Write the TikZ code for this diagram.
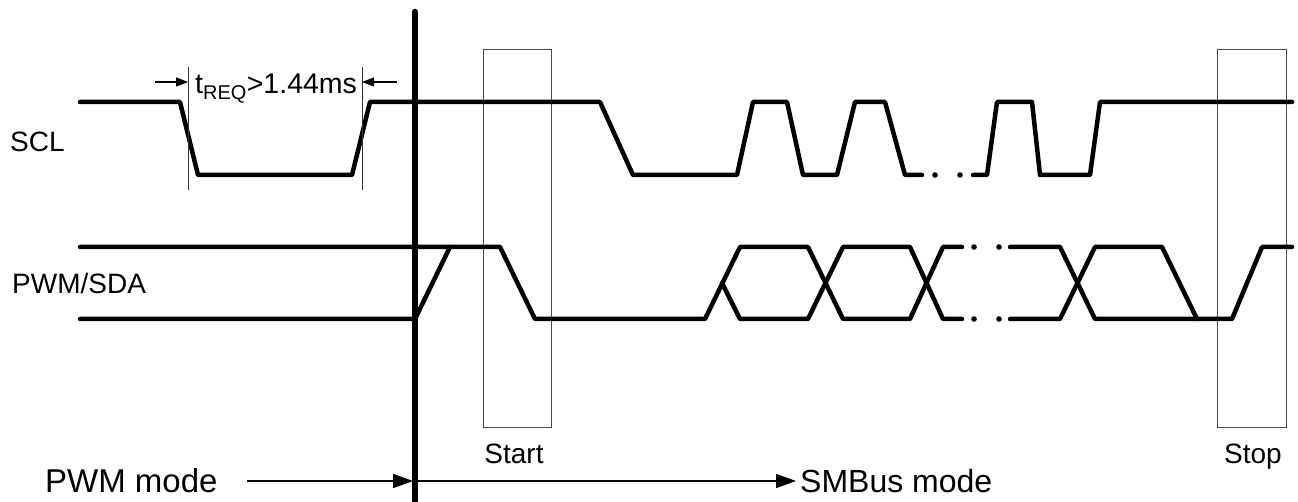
\documentclass[tikz,border=0pt]{standalone}
\usepackage{fontspec}
\setmainfont{Liberation Sans}
\usetikzlibrary{arrows.meta}
\begin{document}
\begin{tikzpicture}[x=1pt,y=-1pt,
  sig/.style={line width=4.5pt,line cap=round,line join=round},
  winbox/.style={draw=black!70,line width=1pt},
  tick/.style={draw=black!80,line width=1pt},
  smallarr/.style={line width=1.2pt,-{Triangle[length=12pt,width=9pt]}},
  bigarr/.style={line width=1.5pt,-{Triangle[length=20pt,width=14pt]}},
  lbl/.style={inner sep=0pt,font=\fontsize{28}{30}\selectfont},
  modelbl/.style={inner sep=0pt,font=\fontsize{32}{34}\selectfont}]
\useasboundingbox (0,0) rectangle (1298,502);
% windows
\draw[winbox] (483,50) rectangle (551,427);
\draw[winbox] (1217,50) rectangle (1286,427);
% SCL
\draw[sig] (80,102)--(180,102)--(198,175)--(352,175)--(370,102)--(600,102)--(633,175)--(737,175)--(753,102)--(787,102)--(803,175)--(837,175)--(855,102)--(885,102)--(905,175)--(922,175);
\fill (935,175) circle (2.8);
\fill (960,175) circle (2.8);
\draw[sig] (973,175)--(987,175)--(997,102)--(1032,102)--(1040,175)--(1090,175)--(1100,102)--(1292,102);
% SDA
\draw[sig] (80,319)--(415,319)--(450,247);
\draw[sig] (80,247)--(500,247)--(535,319)--(705,319)--(740,247)--(808,247)--(843,319)--(910,319)--(943,247)--(962,247);
\draw[sig] (722,283)--(740,319)--(808,319)--(843,247)--(910,247)--(943,319)--(962,319);
\fill (974,247) circle (2.8);
\fill (999,247) circle (2.8);
\fill (974,319) circle (2.8);
\fill (999,319) circle (2.8);
\draw[sig] (1010,247)--(1060,247)--(1095,319)--(1232,319)--(1262,247)--(1292,247);
\draw[sig] (1010,319)--(1060,319)--(1095,247)--(1162,247)--(1197,319);
% tREQ
\draw[tick] (188,67)--(188,190);
\draw[tick] (362,67)--(362,190);
\coordinate (la) at (155,82);
\coordinate (lb) at (188,82);
\coordinate (ra) at (397,82);
\coordinate (rb) at (362,82);
\draw[smallarr] (la)--(lb);
\draw[smallarr] (ra)--(rb);
\node[inner sep=0pt,anchor=base west,font=\fontsize{28.5}{30}\selectfont] (treq) at (195,94) {t\textsubscript{REQ}>1.44ms};
% mode switch line
\draw[line width=6.5pt,line cap=round] (415,12)--(415,510);
% labels
\node[lbl,anchor=west] (scl) at (10,142) {SCL};
\node[lbl,anchor=west] (sda) at (12,283) {PWM/SDA};
\node[lbl,anchor=base] (start) at (514,463) {Start};
\node[lbl,anchor=base] (stop) at (1253,463) {Stop};
\node[modelbl,anchor=base west,font=\fontsize{33}{35}\selectfont] (pwm) at (45,492) {PWM mode};
\node[modelbl,anchor=base west] (smb) at (800,492) {SMBus mode};
\coordinate (a0) at (247,481);
\coordinate (a1) at (413,481);
\coordinate (a2) at (418,481);
\draw[bigarr] (a0)--(a1);
\draw[bigarr] (a2)--([xshift=-4pt]smb.west |- a2);
\end{tikzpicture}
\end{document}
